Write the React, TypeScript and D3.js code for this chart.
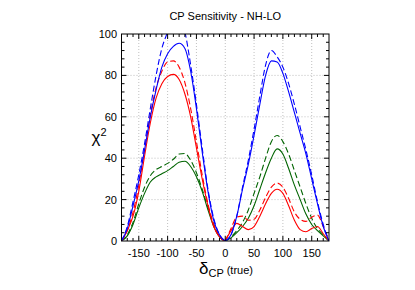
import React, { useEffect, useRef } from 'react';
import * as d3 from 'd3';

// delta_CP (true) grid points, degrees
const xLeft = [-180, -170, -160, -150, -140, -130, -120, -110, -100, -90, -80, -70, -60, -50, -40, -30, -20, -10, 0];
const xRight = [0, 10, 20, 30, 40, 50, 60, 70, 80, 90, 100, 110, 120, 130, 140, 150, 160, 170, 180];

// chi^2 values, left lobe (delta < 0)
const blueSolidL = [0, 6, 17, 29, 44, 60, 73, 84, 90.5, 94, 95.5, 93, 82, 64, 43, 24, 10, 3, 0];
const blueDashL = [0, 7, 19, 32, 47, 64, 80, 93, 101, 108, 108, 101, 85, 66, 45, 25, 11, 3, 0];
const redSolidL = [0, 5, 12, 24, 41, 57, 69, 76, 79.5, 80.5, 78, 71, 60, 45, 30, 17, 7, 2, 0];
const redDashL = [0, 5, 14, 27, 44, 61, 74, 82, 86.5, 87, 84, 76.5, 64, 48, 32, 18, 8, 2, 0];
const greenSolidL = [0, 2.5, 8, 16, 23, 28.5, 31, 32.5, 34, 36, 38, 38.5, 36, 31, 24, 15, 7, 2, 0];
const greenDashL = [0, 3, 9, 18, 26, 31.5, 34.5, 36, 37.5, 39.5, 42, 42.3, 39, 33, 25, 16, 8, 2, 0];

// chi^2 values, right lobe (delta > 0)
const blueSolidR = [0, 3, 12, 25, 37, 51, 66, 80, 87, 86.5, 81, 72, 62, 52, 42, 30, 18, 7, 0];
const blueDashR = [0, 3, 12, 26, 39, 54, 70, 85, 92, 89, 84, 76, 66, 55, 44, 32, 19, 8, 0];
const redSolidR = [0, 5, 8.5, 7, 5.5, 7, 12, 18, 23, 25, 23, 17, 10, 5.5, 4.5, 6, 7, 3.5, 0];
const redDashR = [0, 6, 11.5, 12, 10, 10.5, 15, 21, 26, 28, 26, 20.5, 14, 10.5, 9.5, 11.5, 12.5, 7, 0];
const greenSolidR = [0, 1.5, 4, 7, 11, 17, 25, 33, 40, 44.5, 42, 35, 27, 20, 13, 8, 5, 2.5, 0];
const greenDashR = [0, 2, 5, 9, 15, 23, 31, 40, 48, 51, 48, 42, 34, 26, 18, 11, 6, 3, 0];

const xTicks = [-150, -100, -50, 0, 50, 100, 150];
const yTicks = [0, 20, 40, 60, 80, 100];

const series = [
  { color: '#006400', dash: null, left: greenSolidL, right: greenSolidR },
  { color: '#006400', dash: '6,3', left: greenDashL, right: greenDashR },
  { color: '#ff0000', dash: null, left: redSolidL, right: redSolidR },
  { color: '#ff0000', dash: '6,3', left: redDashL, right: redDashR },
  { color: '#0000ff', dash: null, left: blueSolidL, right: blueSolidR },
  { color: '#0000ff', dash: '6,3', left: blueDashL, right: blueDashR },
];

const W = 415;
const H = 290;

export default function App() {
  const ref = useRef<SVGSVGElement | null>(null);

  useEffect(() => {
    document.body.style.margin = '0';
    const svg = d3.select(ref.current);
    svg.selectAll('*').remove();

    const left = 121.5, right = 329, top = 34, bottom = 241;
    const x = d3.scaleLinear().domain([-180, 180]).range([left, right]);
    const y = d3.scaleLinear().domain([0, 100]).range([bottom, top]);
    const font = 'Liberation Sans, Arial, sans-serif';

    svg.append('defs').append('clipPath').attr('id', 'plotclip')
      .append('rect').attr('x', left).attr('y', top)
      .attr('width', right - left).attr('height', bottom - top);

    // grid
    svg.selectAll('.vgrid').data(xTicks).join('line')
      .attr('x1', d => x(d)).attr('x2', d => x(d))
      .attr('y1', top).attr('y2', bottom)
      .attr('stroke', '#b0b0b0').attr('stroke-width', 0.8)
      .attr('stroke-dasharray', '1,2');
    svg.selectAll('.hgrid').data(yTicks.slice(1, -1)).join('line')
      .attr('x1', left).attr('x2', right)
      .attr('y1', d => y(d)).attr('y2', d => y(d))
      .attr('stroke', '#b0b0b0').attr('stroke-width', 0.8)
      .attr('stroke-dasharray', '1,2');

    // curves
    const line = d3.line<[number, number]>()
      .x(d => x(d[0])).y(d => y(d[1]))
      .curve(d3.curveMonotoneX);
    const g = svg.append('g').attr('clip-path', 'url(#plotclip)');
    series.forEach(s => {
      [[xLeft, s.left], [xRight, s.right]].forEach(([xs, ys]) => {
        const pts = xs.map((v, i) => [v, ys[i]] as [number, number]);
        g.append('path')
          .attr('d', line(pts))
          .attr('fill', 'none')
          .attr('stroke', s.color)
          .attr('stroke-width', 1.1)
          .attr('stroke-dasharray', s.dash);
      });
    });

    // frame
    svg.append('rect').attr('x', left).attr('y', top)
      .attr('width', right - left).attr('height', bottom - top)
      .attr('fill', 'none').attr('stroke', '#000').attr('stroke-width', 1);

    // ticks, inward on all sides
    const xMinor = d3.range(-170, 180, 10);
    const yMinor = d3.range(4, 100, 4);
    const tick = (x1: number, y1: number, x2: number, y2: number) =>
      svg.append('line').attr('x1', x1).attr('y1', y1).attr('x2', x2).attr('y2', y2)
        .attr('stroke', '#000').attr('stroke-width', 1);
    xMinor.forEach(v => {
      const len = v % 50 === 0 ? 5 : 3;
      tick(x(v), bottom, x(v), bottom - len);
      tick(x(v), top, x(v), top + len);
    });
    yMinor.forEach(v => {
      const len = v % 20 === 0 ? 5 : 3;
      tick(left, y(v), left + len, y(v));
      tick(right, y(v), right - len, y(v));
    });

    // tick labels
    svg.selectAll('.xl').data(xTicks).join('text')
      .attr('x', d => x(d)).attr('y', bottom + 16)
      .attr('text-anchor', 'middle').attr('font-family', font).attr('font-size', 11)
      .text(d => d);
    svg.selectAll('.yl').data(yTicks).join('text')
      .attr('x', left - 4.5).attr('y', d => y(d) + 4)
      .attr('text-anchor', 'end').attr('font-family', font).attr('font-size', 11)
      .text(d => d);

    // title
    svg.append('text').attr('x', (left + right) / 2).attr('y', 20)
      .attr('text-anchor', 'middle').attr('font-family', font).attr('font-size', 11)
      .text('CP Sensitivity - NH-LO');

    // y label chi^2
    const yl = svg.append('text').attr('x', 99).attr('y', 143)
      .attr('text-anchor', 'middle').attr('font-family', font).attr('font-size', 17);
    yl.append('tspan').text('χ');
    yl.append('tspan').attr('font-size', 11).attr('dy', -7).text('2');

    // x label delta_CP (true)
    const xl = svg.append('text').attr('x', 226).attr('y', 274)
      .attr('text-anchor', 'middle').attr('font-family', font).attr('font-size', 17);
    xl.append('tspan').text('δ');
    xl.append('tspan').attr('font-size', 11).attr('dy', 3).text('CP');
    xl.append('tspan').attr('font-size', 11).attr('dy', -3).text(' (true)');
  }, []);

  return <svg ref={ref} width={W} height={H} style={{ display: 'block', background: '#fff' }} />;
}
